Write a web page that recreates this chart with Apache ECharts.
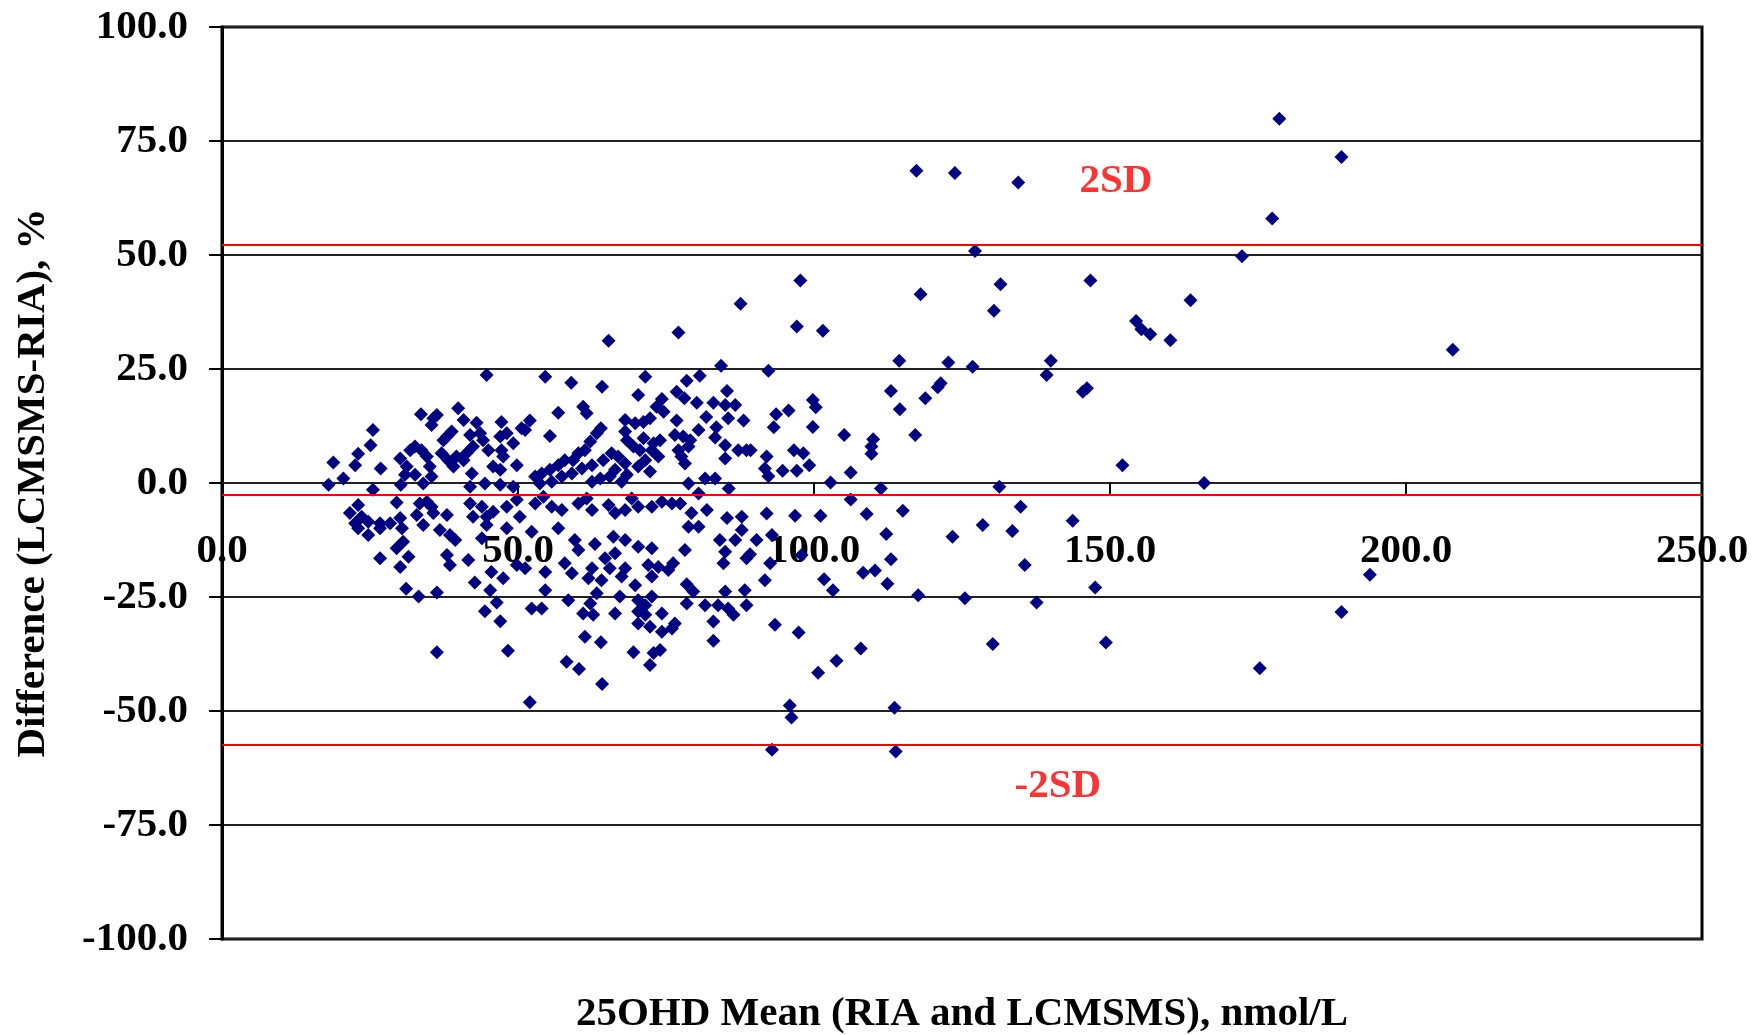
<!DOCTYPE html>
<html>
<head>
<meta charset="utf-8">
<script src="https://cdn.jsdelivr.net/npm/echarts@6/dist/echarts.min.js"></script>
<style>
  body { margin: 0; background: #fff; }
  #chart { width: 1754px; height: 1035px; }
</style>
</head>
<body>
<div id="chart"></div>
<script>
// axis settings
const xTitle = "25OHD Mean (RIA and LCMSMS), nmol/L";
const yTitle = "Difference (LCMSMS-RIA), %";
const xRange = [0, 250, 50];
const yRange = [-100, 100, 25];

// mean +2SD, mean, mean -2SD
const sdLines = [52.2, -2.5, -57.5];
const sdLabels = [
  [151.0, 66.2, "2SD"],
  [141.2, -66.5, "-2SD"],
];

// [mean of both methods, difference %]
const scatterPoints = [
  // 18-50, upper part
  [44.7, 23.7], [39.9, 16.4], [33.6, 15.1], [35.7, 14.2], [36.3, 14.9], [35.4, 12.7],
  [40.8, 13.8], [43.0, 13.2], [47.2, 13.4], [50.6, 12.0], [25.5, 11.6], [25.1, 8.3],
  [23.0, 6.4], [18.8, 4.5], [22.5, 3.9], [26.8, 3.2], [20.5, 1.0], [18.0, -0.4],
  [25.5, -1.5], [30.2, -0.4], [30.1, 5.4], [31.2, 3.6], [31.8, 7.2], [32.6, 8.0],
  [33.7, 7.2], [34.6, 5.8], [35.1, 3.6], [35.4, 1.4], [34.0, -0.1], [32.6, 1.8],
  [30.9, 1.8], [38.0, 10.2], [38.8, 11.3], [37.4, 9.4], [37.1, 6.5], [38.2, 5.0],
  [39.1, 3.6], [39.6, 5.8], [40.8, 5.0], [41.3, 6.5], [42.4, 8.0], [44.1, 9.4],
  [41.9, 10.5], [43.6, 10.9], [45.0, 7.2], [45.8, 3.6], [47.0, 2.9], [47.5, 5.8],
  [47.2, 7.2], [47.0, 10.2], [48.1, 10.9], [49.2, 8.7], [49.8, 3.9], [44.4, -0.1],
  [42.2, 2.1], [41.9, -0.8], [47.0, -0.4], [49.2, -0.8],
  [29.5, -4.3], [23.0, -4.8], [21.6, -6.6], [23.6, -7.4], [22.5, -8.8], [24.7, -8.5],
  [26.7, -8.8], [33.4, -4.5], [34.6, -4.1], [35.4, -5.2], [35.7, -6.6], [32.9, -7.0],
  [38.0, -7.0], [41.9, -4.5], [42.4, -7.4], [43.9, -5.2], [44.7, -7.4], [45.8, -6.3],
  [48.1, -5.2], [49.8, -3.7], [50.3, -7.4], [28.4, -8.8], [30.1, -7.7],
  // 18-50, lower part
  [23.0, -9.9], [24.7, -11.4], [26.7, -9.9], [30.4, -9.9], [34.0, -9.2], [36.8, -10.3],
  [38.5, -11.4], [39.4, -12.5], [30.6, -12.9], [29.5, -14.3], [31.5, -16.2], [26.7, -16.5],
  [30.1, -18.4], [38.0, -15.8], [38.5, -18.0], [41.6, -16.9], [43.9, -12.1], [44.7, -9.2],
  [48.1, -9.9], [49.8, -18.0], [45.5, -19.5], [47.5, -20.9], [42.7, -21.8], [45.3, -23.5],
  [46.4, -26.2], [44.4, -28.1], [47.0, -30.3], [31.1, -23.2], [33.2, -24.9], [36.3, -24.0],
  [36.3, -37.1], [48.3, -36.8], [52.0, -48.1],
  // 50-90, upper part
  [54.6, 23.3], [59.0, 22.0], [64.2, 21.1], [71.5, 23.3], [70.3, 19.3], [78.5, 22.4],
  [80.7, 23.5], [84.3, 25.7], [85.3, 20.2], [76.8, 20.0], [78.1, 18.6], [80.2, 17.6],
  [83.0, 17.6], [85.0, 17.1], [86.7, 17.1], [74.3, 18.4], [73.4, 16.7], [74.6, 15.6],
  [61.0, 16.7], [61.6, 15.3], [56.8, 15.4], [52.0, 13.7], [76.8, 13.7], [81.8, 14.5],
  [85.5, 14.2], [88.1, 13.7], [68.1, 13.8], [69.8, 13.1], [72.3, 14.2], [71.2, 13.4],
  [64.0, 12.0], [51.2, 11.6], [83.5, 12.2], [55.4, 10.3], [68.1, 11.3], [68.4, 9.4],
  [69.5, 8.0], [76.5, 10.5], [77.9, 10.2], [79.1, 9.4], [80.5, 11.6], [78.8, 8.0],
  [77.1, 7.2], [77.6, 5.8], [78.2, 4.3], [83.3, 10.0], [85.0, 8.3], [87.2, 7.2],
  [88.6, 7.2], [85.0, 5.4], [71.2, 9.8], [72.9, 8.7], [74.0, 9.4], [72.6, 7.2],
  [70.6, 7.2], [73.7, 5.8], [71.5, 5.0], [70.3, 3.6], [72.3, 2.5], [63.3, 10.9],
  [62.2, 9.1], [61.3, 7.2], [60.2, 6.5], [59.3, 5.0], [57.9, 5.0], [56.8, 3.9],
  [55.4, 2.9], [54.0, 2.1], [52.9, 1.4], [53.7, -0.1], [55.7, 0.3], [57.4, 1.4],
  [59.1, 2.1], [60.8, 3.2], [62.5, 3.9], [64.4, 5.0], [65.8, 6.5], [66.9, 5.8],
  [66.4, 2.9], [65.5, 1.4], [63.9, 1.0], [62.5, 0.3], [68.1, 4.3], [68.4, 1.8],
  [67.5, 0.3], [78.8, -0.1], [81.6, 1.0], [83.3, 1.0], [85.6, -1.2], [80.5, -2.3],
  [52.9, -4.5], [54.3, -3.0], [55.7, -5.2], [57.4, -5.9], [60.2, -4.5], [61.6, -3.4],
  [62.5, -5.9], [65.3, -4.8], [66.4, -6.6], [68.1, -5.9], [69.2, -3.4], [70.3, -5.2],
  [72.6, -5.2], [74.3, -4.1], [76.0, -4.5], [77.4, -4.5], [79.3, -6.6], [81.9, -5.9],
  [85.3, -7.7], [87.8, -7.4], [65.3, 31.2], [77.1, 33.0], [87.6, 39.3],
  // 50-90, lower part
  [52.3, -10.7], [56.8, -9.9], [59.6, -12.5], [60.2, -14.7], [63.0, -13.4], [66.1, -11.8],
  [68.1, -12.5], [70.3, -14.0], [72.6, -14.3], [66.4, -15.4], [64.7, -16.5], [65.5, -18.7],
  [68.1, -18.7], [67.5, -20.5], [62.5, -18.7], [61.9, -20.9], [64.1, -21.3], [57.9, -17.6],
  [59.1, -19.8], [54.6, -19.5], [51.2, -18.7], [72.0, -18.0], [72.6, -20.5], [73.7, -18.4],
  [75.4, -19.1], [76.2, -17.6], [78.2, -14.7], [78.8, -9.6], [80.5, -9.6], [84.1, -12.5],
  [86.7, -12.5], [87.8, -10.3], [85.0, -15.1], [84.7, -17.6], [88.6, -16.5], [69.8, -22.4],
  [54.6, -23.5], [58.5, -25.7], [63.3, -24.2], [62.2, -26.4], [67.2, -24.9], [61.0, -28.6],
  [62.7, -28.9], [66.4, -28.6], [70.3, -25.7], [71.5, -26.8], [72.6, -24.9], [70.3, -28.2],
  [71.5, -28.9], [74.3, -28.6], [52.3, -27.5], [54.0, -27.5], [78.5, -22.2], [79.6, -23.8],
  [78.5, -26.4], [81.6, -26.8], [83.8, -26.8], [85.5, -27.5], [86.4, -28.9], [85.0, -23.8],
  [88.3, -23.5], [88.6, -26.8], [83.0, -30.4], [83.0, -34.6], [70.3, -30.8], [72.3, -31.5],
  [74.3, -32.6], [76.0, -31.9], [76.5, -30.8], [61.3, -33.7], [64.0, -34.9], [69.5, -37.1],
  [72.9, -37.3], [74.0, -36.6], [72.3, -39.9], [58.2, -39.2], [60.3, -40.8], [64.2, -44.1],
  // 89-157
  [114.4, 26.8], [122.7, 26.4], [126.8, 25.5], [140.0, 26.8], [139.3, 23.7], [146.1, 20.8],
  [145.4, 20.0], [120.9, 21.0], [92.3, 24.6], [93.6, 15.1], [95.7, 15.9], [93.2, 12.2],
  [99.8, 18.2], [100.3, 16.6], [99.8, 12.3], [92.0, 5.8], [91.7, 3.2], [92.3, 1.5],
  [94.7, 2.7], [97.1, 2.7], [96.6, 7.2], [98.2, 6.5], [99.2, 3.9], [102.8, 0.1],
  [106.2, 2.3], [105.1, 10.5], [110.0, 9.6], [109.7, 8.0], [109.7, 6.4], [111.3, -1.2],
  [117.1, 10.5], [113.0, 20.2], [114.5, 16.2], [118.8, 18.6], [121.4, 21.9], [131.3, -0.8],
  [106.2, -3.6], [108.9, -6.8], [115.0, -6.1], [92.0, -6.7], [96.8, -7.2], [101.1, -7.2],
  [90.3, -12.5], [92.9, -11.4], [92.6, -17.6], [97.9, -15.8], [112.2, -11.2], [123.4, -11.8],
  [128.5, -9.2], [133.5, -10.5], [134.9, -5.2], [143.7, -8.3], [113.0, -16.7], [108.3, -19.7],
  [110.3, -19.2], [112.4, -22.1], [101.7, -21.1], [103.2, -23.5], [91.7, -21.3], [135.6, -18.0],
  [147.5, -22.9], [117.6, -24.6], [125.5, -25.3], [137.6, -26.2], [93.4, -31.1], [97.4, -32.8],
  [130.2, -35.3], [149.3, -35.0], [107.9, -36.3], [103.8, -39.0], [100.7, -41.6], [89.2, -15.6],
  [89.3, 7.2], [96.2, -51.4], [95.9, -48.8], [92.9, -58.5], [113.6, -49.3], [113.8, -58.9],
  [117.3, 68.5], [123.8, 68.0], [134.5, 65.9], [127.2, 50.9], [97.7, 44.4], [97.1, 34.3],
  [101.5, 33.4], [118.0, 41.4], [131.5, 43.6], [130.4, 37.8], [146.7, 44.4],
  // above 150
  [178.6, 79.9], [189.1, 71.5], [177.4, 58.0], [172.3, 49.7], [163.6, 40.1], [154.4, 35.5],
  [155.3, 33.7], [156.8, 32.6], [160.2, 31.3], [207.9, 29.2], [152.1, 3.9], [165.9, 0.0],
  [193.9, -20.1], [189.1, -28.3], [175.3, -40.6],
];

const fontFamily = "'Liberation Serif', 'Times New Roman', serif";
const textBase = { fontFamily: fontFamily, fontWeight: "bold", color: "#000", fontSize: 41 };

// plot box in pixels; the x axis sits on the 0 line, half way down
const gridTop = 27;
const gridBottom = 96;
const plotHeight = 1035 - gridTop - gridBottom;

let chartDom = document.getElementById("chart");
let myChart = echarts.init(chartDom);
let option = {
  animation: false,
  backgroundColor: "#fff",
  grid: {
    left: 222,
    right: 52,
    top: gridTop,
    bottom: gridBottom,
    containLabel: false,
    outerBoundsMode: "none",
    show: true,
    borderColor: "#000",
    borderWidth: 3,
  },
  xAxis: {
    type: "value",
    min: xRange[0],
    max: xRange[1],
    interval: xRange[2],
    position: "bottom",
    // move the axis up from the bottom edge to y = 0
    offset: -plotHeight / 2,
    name: xTitle,
    nameLocation: "middle",
    nameGap: 511,
    nameTextStyle: textBase,
    axisLine: { show: true, onZero: false, lineStyle: { color: "#222", width: 2 } },
    axisTick: { show: true, length: 12, lineStyle: { color: "#000", width: 2 } },
    axisLabel: {
      ...textBase,
      margin: 48,
      showMinLabel: true,
      showMaxLabel: true,
      formatter: (v) => v.toFixed(1),
    },
    splitLine: { show: false },
  },
  yAxis: {
    type: "value",
    min: yRange[0],
    max: yRange[1],
    interval: yRange[2],
    name: yTitle,
    nameLocation: "middle",
    nameGap: 168,
    nameTextStyle: textBase,
    axisLine: { show: true, lineStyle: { color: "#000", width: 3 } },
    axisTick: { show: true, length: 13, lineStyle: { color: "#000", width: 2 } },
    axisLabel: { ...textBase, margin: 34, formatter: (v) => v.toFixed(1) },
    splitLine: { show: true, lineStyle: { color: "#222", width: 2 } },
  },
  series: [
    {
      name: "points",
      type: "scatter",
      data: scatterPoints,
      symbol: "diamond",
      symbolSize: 14,
      itemStyle: { color: "#000080", opacity: 1 },
      z: 2,
    },
    {
      // red mean / ±2SD lines, drawn over the points
      name: "sd",
      type: "line",
      data: [],
      z: 5,
      markLine: {
        silent: true,
        symbol: "none",
        label: { show: false },
        lineStyle: { color: "#ff0000", width: 2, type: "solid" },
        data: sdLines.map((v) => ({ yAxis: v })),
      },
    },
    {
      name: "sdText",
      type: "scatter",
      data: sdLabels,
      symbolSize: 0,
      z: 6,
      label: {
        show: true,
        position: "inside",
        ...textBase,
        color: "#ff0000",
        formatter: (p) => p.data[2],
      },
    },
  ],
};

option && myChart.setOption(option);
</script>
</body>
</html>
